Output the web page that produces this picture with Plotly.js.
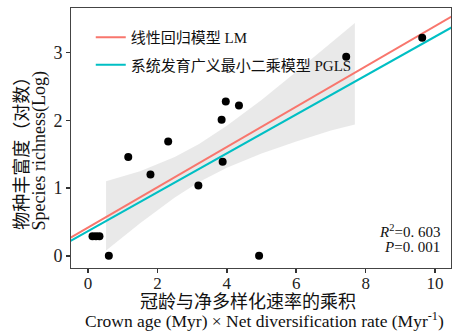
<!DOCTYPE html>
<html>
<head>
<meta charset="utf-8">
<script src="https://cdn.plot.ly/plotly-3.0.1.min.js"></script>
<style>html,body{margin:0;padding:0;background:#fff;}#chart{width:458px;height:332px;}</style>
</head>
<body>
<div id="chart"></div>
<script>
// Scatter points (x: crown age × net diversification rate, y: log species richness)
const pointX = [0.13, 0.23, 0.33, 0.60, 1.16, 1.80, 2.31, 3.18, 3.85, 3.88, 3.97, 4.35, 4.93, 7.44, 9.63];
const pointY = [0.29, 0.29, 0.29, 0.00, 1.46, 1.20, 1.69, 1.04, 2.01, 1.39, 2.28, 2.22, 0.00, 2.94, 3.22];

// Fitted lines
const lineX = [-0.5, 10.5];
const lmY = [0.27, 3.54];
const pglsY = [0.22, 3.38];

// Confidence band
const bandX = [0.52, 1.5, 2.5, 3.2, 4.0, 5.0, 6.0, 7.0, 7.69];
const bandUpper = [1.10, 1.25, 1.46, 1.65, 1.92, 2.30, 2.72, 3.15, 3.44];
const bandLower = [0.08, 0.48, 0.86, 1.09, 1.30, 1.51, 1.69, 1.85, 1.94];

// Labels
const legendNames = ['线性回归模型 LM', '系统发育广义最小二乘模型 PGLS'];
const xTitleLines = ['冠龄与净多样化速率的乘积', 'Crown age (Myr) × Net diversification rate (Myr<sup>-1</sup>)'];
const yTitleLines = ['物种丰富度（对数）', 'Species richness(Log)'];
const statsLines = ['<i>R</i><sup>2</sup>=0. 603', '<i>P</i>=0. 001'];
const xTicks = [0, 2, 4, 6, 8, 10];
const yTicks = [0, 1, 2, 3];

const FONT = "'Liberation Serif', 'Times New Roman', 'Noto Sans CJK SC', serif";

const traces = [
  {
    x: bandX.concat(bandX.slice().reverse()),
    y: bandUpper.concat(bandLower.slice().reverse()),
    type: 'scatter', mode: 'lines', fill: 'toself',
    fillcolor: 'rgba(200,200,200,0.4)', line: {width: 0, color: 'rgba(0,0,0,0)'},
    showlegend: false, hoverinfo: 'skip'
  },
  {
    x: lineX, y: lmY, type: 'scatter', mode: 'lines', name: legendNames[0],
    line: {color: '#F8766D', width: 2}, legendgroup: 'a'
  },
  {
    x: lineX, y: pglsY, type: 'scatter', mode: 'lines', name: legendNames[1],
    line: {color: '#00BFC4', width: 2}, legendgroup: 'b'
  },
  {
    x: pointX, y: pointY, type: 'scatter', mode: 'markers',
    marker: {color: '#000', size: 8}, showlegend: false
  }
];

const titleFont = {size: 18, family: FONT, color: '#111'};

const layout = {
  width: 458, height: 332,
  margin: {l: 71, r: 7, t: 8, b: 64},
  paper_bgcolor: '#fff', plot_bgcolor: '#fff',
  font: {family: FONT, color: '#111', size: 15},
  showlegend: true,
  legend: {
    x: 0.052, y: 0.95, xanchor: 'left', yanchor: 'top',
    bgcolor: 'rgba(0,0,0,0)', font: {size: 15, family: FONT},
    traceorder: 'grouped', tracegroupgap: 5, itemwidth: 30
  },
  xaxis: {
    range: [-0.49, 10.46], tickvals: xTicks, ticktext: xTicks.map(String),
    ticks: 'outside', ticklen: 4, tickwidth: 1.5, tickcolor: '#333',
    ticklabelstandoff: -4,
    showline: true, linecolor: '#444', linewidth: 1, mirror: true,
    showgrid: false, zeroline: false,
    tickfont: {size: 17, family: FONT, color: '#222'}
  },
  yaxis: {
    range: [-0.18, 3.66], tickvals: yTicks, ticktext: yTicks.map(String),
    ticks: 'outside', ticklen: 4, tickwidth: 1.5, tickcolor: '#333',
    showline: true, linecolor: '#444', linewidth: 1, mirror: true,
    showgrid: false, zeroline: false,
    tickfont: {size: 18, family: FONT, color: '#222'}
  },
  annotations: [
    {
      xref: 'paper', yref: 'paper', x: 0.466, y: -0.13, xanchor: 'center', yanchor: 'middle',
      text: xTitleLines[0], showarrow: false, font: titleFont
    },
    {
      xref: 'paper', yref: 'paper', x: 0.508, y: -0.2, xanchor: 'center', yanchor: 'middle',
      text: xTitleLines[1], showarrow: false, font: {size: 17.5, family: FONT, color: '#111'}
    },
    {
      xref: 'paper', yref: 'paper', x: -0.128, y: 0.46, xanchor: 'center', yanchor: 'middle',
      text: yTitleLines[0], showarrow: false, textangle: -90, font: titleFont
    },
    {
      xref: 'paper', yref: 'paper', x: -0.083, y: 0.45, xanchor: 'center', yanchor: 'middle',
      text: yTitleLines[1], showarrow: false, textangle: -90, font: titleFont
    },
    {
      xref: 'paper', yref: 'paper', x: 0.975, y: 0.142, xanchor: 'right', yanchor: 'middle',
      text: statsLines[0], showarrow: false, align: 'right',
      font: {size: 15, family: FONT, color: '#111'}
    },
    {
      xref: 'paper', yref: 'paper', x: 0.975, y: 0.081, xanchor: 'right', yanchor: 'middle',
      text: statsLines[1], showarrow: false, align: 'right',
      font: {size: 15, family: FONT, color: '#111'}
    }
  ]
};

Plotly.newPlot('chart', traces, layout, {displayModeBar: false, staticPlot: true});
</script>
</body>
</html>
